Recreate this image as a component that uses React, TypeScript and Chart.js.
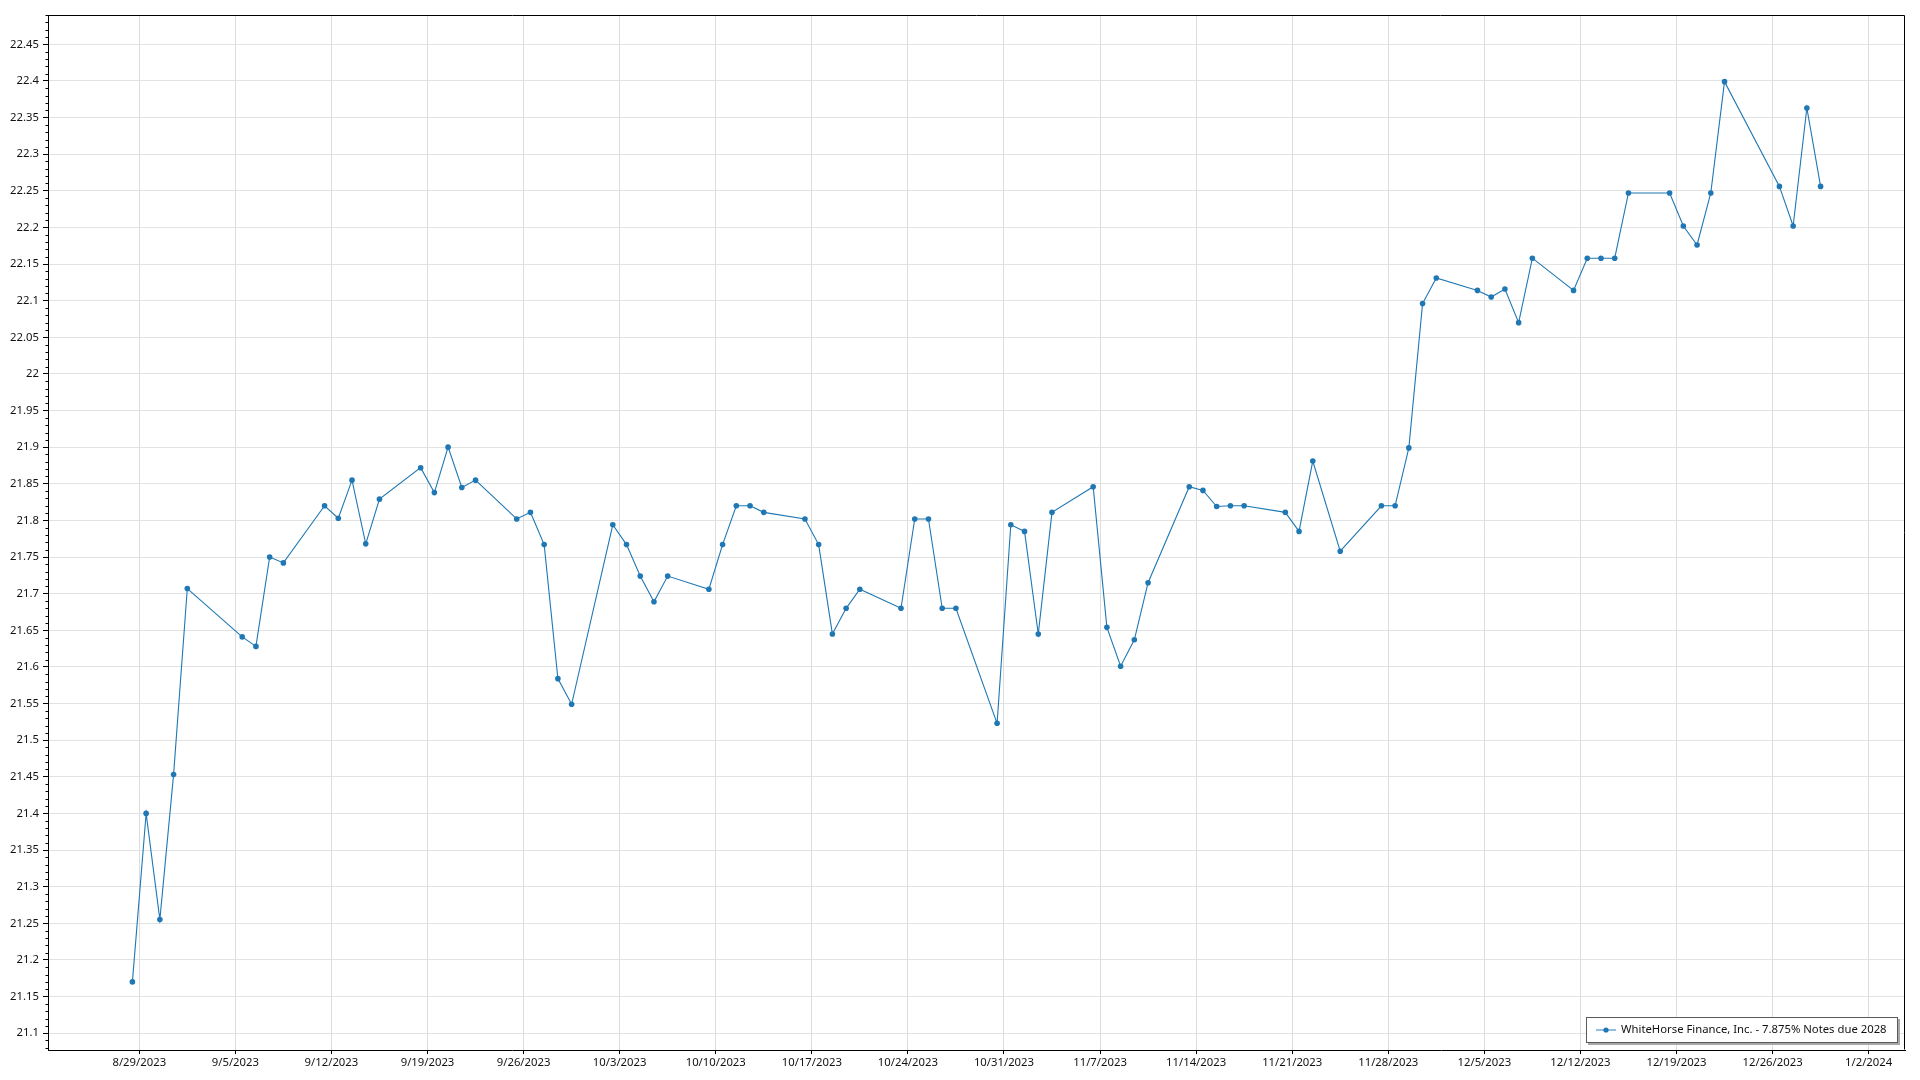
import React, { useEffect, useRef } from 'react';
import { Chart, registerables } from 'chart.js';

Chart.register(...registerables);

const SERIES_LABEL = 'WhiteHorse Finance, Inc. - 7.875% Notes due 2028';

const DATES = [
  '2023-08-28', '2023-08-29', '2023-08-30', '2023-08-31', '2023-09-01',
  '2023-09-05', '2023-09-06', '2023-09-07', '2023-09-08',
  '2023-09-11', '2023-09-12', '2023-09-13', '2023-09-14', '2023-09-15',
  '2023-09-18', '2023-09-19', '2023-09-20', '2023-09-21', '2023-09-22',
  '2023-09-25', '2023-09-26', '2023-09-27', '2023-09-28', '2023-09-29',
  '2023-10-02', '2023-10-03', '2023-10-04', '2023-10-05', '2023-10-06',
  '2023-10-09', '2023-10-10', '2023-10-11', '2023-10-12', '2023-10-13',
  '2023-10-16', '2023-10-17', '2023-10-18', '2023-10-19', '2023-10-20',
  '2023-10-23', '2023-10-24', '2023-10-25', '2023-10-26', '2023-10-27',
  '2023-10-30', '2023-10-31', '2023-11-01', '2023-11-02', '2023-11-03',
  '2023-11-06', '2023-11-07', '2023-11-08', '2023-11-09', '2023-11-10',
  '2023-11-13', '2023-11-14', '2023-11-15', '2023-11-16', '2023-11-17',
  '2023-11-20', '2023-11-21', '2023-11-22', '2023-11-24',
  '2023-11-27', '2023-11-28', '2023-11-29', '2023-11-30', '2023-12-01',
  '2023-12-04', '2023-12-05', '2023-12-06', '2023-12-07', '2023-12-08',
  '2023-12-11', '2023-12-12', '2023-12-13', '2023-12-14', '2023-12-15',
  '2023-12-18', '2023-12-19', '2023-12-20', '2023-12-21', '2023-12-22',
  '2023-12-26', '2023-12-27', '2023-12-28', '2023-12-29',
];

const PRICES = [
  21.17, 21.40, 21.255, 21.453, 21.707,
  21.641, 21.628, 21.75, 21.742,
  21.82, 21.803, 21.855, 21.768, 21.829,
  21.872, 21.838, 21.9, 21.845, 21.855,
  21.802, 21.811, 21.767, 21.584, 21.549,
  21.794, 21.767, 21.724, 21.689, 21.724,
  21.706, 21.767, 21.82, 21.82, 21.811,
  21.802, 21.767, 21.645, 21.68, 21.706,
  21.68, 21.802, 21.802, 21.68, 21.68,
  21.523, 21.794, 21.785, 21.645, 21.811,
  21.846, 21.654, 21.601, 21.637, 21.715,
  21.846, 21.841, 21.819, 21.82, 21.82,
  21.811, 21.785, 21.881, 21.758,
  21.82, 21.82, 21.899, 22.096, 22.131,
  22.114, 22.105, 22.116, 22.07, 22.158,
  22.114, 22.158, 22.158, 22.158, 22.247,
  22.247, 22.202, 22.176, 22.247, 22.399,
  22.256, 22.202, 22.363, 22.256,
];

const X_TICK_DATES = [
  '2023-08-29', '2023-09-05', '2023-09-12', '2023-09-19', '2023-09-26',
  '2023-10-03', '2023-10-10', '2023-10-17', '2023-10-24', '2023-10-31',
  '2023-11-07', '2023-11-14', '2023-11-21', '2023-11-28', '2023-12-05',
  '2023-12-12', '2023-12-19', '2023-12-26', '2024-01-02',
];

const Y_TICK_START = 21.1;
const Y_TICK_END = 22.45;
const Y_TICK_STEP = 0.05;
const Y_MINOR_STEP = 0.01;
const Y_MIN = 21.077;
const Y_MAX = 22.49;

// samples are timestamped at noon of each trading day
const SAMPLE_HOUR_FRACTION = 0.5;
const X_PAD_FRACTION = 0.05;

const FONT_FAMILY = "'Segoe UI', 'Noto Sans', 'Open Sans', sans-serif";
const FONT_SIZE = 11.3;
const LINE_COLOR = '#1f77b4';

const DAY_MS = 86400000;
function dayOf(s: string): number {
  const [y, m, d] = s.split('-').map(Number);
  return Date.UTC(y, m - 1, d) / DAY_MS;
}
function formatDay(v: number): string {
  const dt = new Date(Math.round(v) * DAY_MS);
  return `${dt.getUTCMonth() + 1}/${dt.getUTCDate()}/${dt.getUTCFullYear()}`;
}

const decorPlugin = {
  id: 'decor',
  afterDraw(chart: any) {
    const { ctx, chartArea: a } = chart;
    const L = Math.round(a.left) + 0.5;
    const T = Math.round(a.top) + 0.5;
    const R = Math.round(a.right) - 0.5;
    const B = Math.round(a.bottom) - 0.5;
    ctx.save();
    ctx.strokeStyle = '#000';
    ctx.lineWidth = 1;
    ctx.beginPath();
    ctx.moveTo(L, T);
    ctx.lineTo(R, T);
    ctx.lineTo(R, B);
    ctx.stroke();

    // minor ticks on the value axis
    const ys = chart.scales.y;
    const kMin = Math.ceil(ys.min / Y_MINOR_STEP - 1e-9);
    const kMax = Math.floor(ys.max / Y_MINOR_STEP + 1e-9);
    ctx.beginPath();
    for (let k = kMin; k <= kMax; k++) {
      const v = k * Y_MINOR_STEP;
      const major = Math.abs(v / Y_TICK_STEP - Math.round(v / Y_TICK_STEP)) < 1e-6;
      if (major) continue;
      const py = Math.round(ys.getPixelForValue(v)) + 0.5;
      ctx.moveTo(L - 3, py);
      ctx.lineTo(L, py);
    }
    ctx.stroke();

    // legend box
    const label = chart.data.datasets[0].label;
    ctx.font = `${FONT_SIZE}px ${FONT_FAMILY}`;
    const tw = ctx.measureText(label).width;
    const boxW = Math.round(tw + 46);
    const boxH = 26;
    const bx = Math.round(a.right) - 7 - boxW;
    const by = Math.round(a.bottom) - 7 - boxH;
    ctx.fillStyle = '#a8a8a8';
    ctx.fillRect(bx + 2, by + 2, boxW, boxH);
    ctx.fillStyle = '#ffffff';
    ctx.fillRect(bx, by, boxW, boxH);
    ctx.strokeStyle = '#5a5a5a';
    ctx.strokeRect(bx + 0.5, by + 0.5, boxW - 1, boxH - 1);
    const cy = by + boxH / 2;
    ctx.strokeStyle = '#6fa8d6';
    ctx.lineWidth = 1.5;
    ctx.beginPath();
    ctx.moveTo(bx + 10, cy);
    ctx.lineTo(bx + 30, cy);
    ctx.stroke();
    ctx.fillStyle = LINE_COLOR;
    ctx.beginPath();
    ctx.arc(bx + 20, cy, 2.6, 0, Math.PI * 2);
    ctx.fill();
    ctx.fillStyle = '#111';
    ctx.textBaseline = 'middle';
    ctx.textAlign = 'left';
    ctx.fillText(label, bx + 35, cy);
    ctx.restore();
  },
};

export default function App() {
  const ref = useRef<HTMLCanvasElement | null>(null);

  useEffect(() => {
    document.body.style.margin = '0';
    const canvas = ref.current;
    if (!canvas) return;

    const xs = DATES.map((d) => dayOf(d) + SAMPLE_HOUR_FRACTION);
    const span = xs[xs.length - 1] - xs[0];
    const xMin = xs[0] - span * X_PAD_FRACTION;
    const xMax = xs[xs.length - 1] + span * X_PAD_FRACTION;

    const yTicks: number[] = [];
    const n = Math.round((Y_TICK_END - Y_TICK_START) / Y_TICK_STEP);
    for (let i = 0; i <= n; i++) yTicks.push(+(Y_TICK_START + i * Y_TICK_STEP).toFixed(2));

    const chart = new Chart(canvas, {
      type: 'line',
      data: {
        datasets: [
          {
            label: SERIES_LABEL,
            data: xs.map((x, i) => ({ x, y: PRICES[i] })),
            borderColor: LINE_COLOR,
            backgroundColor: LINE_COLOR,
            borderWidth: 1.1,
            pointRadius: 2.8,
            pointBorderWidth: 0,
            pointBackgroundColor: LINE_COLOR,
            tension: 0,
            fill: false,
          },
        ],
      },
      options: {
        responsive: false,
        animation: false,
        layout: { padding: { top: 15, right: 15, left: 0, bottom: 0 } },
        plugins: {
          legend: { display: false },
          tooltip: { enabled: false },
        },
        scales: {
          x: {
            type: 'linear',
            min: xMin,
            max: xMax,
            afterBuildTicks: (s: any) => {
              s.ticks = X_TICK_DATES.map((d) => ({ value: dayOf(d) }));
            },
            afterFit: (s: any) => {
              s.height = 30;
            },
            grid: { color: '#dcdcdc', tickColor: '#000', tickLength: 4, lineWidth: 1 },
            border: { color: '#000', width: 1 },
            ticks: {
              color: '#111',
              font: { family: FONT_FAMILY, size: FONT_SIZE },
              padding: 2,
              maxRotation: 0,
              autoSkip: false,
              callback: (v: any) => formatDay(Number(v)),
            },
          },
          y: {
            type: 'linear',
            min: Y_MIN,
            max: Y_MAX,
            afterBuildTicks: (s: any) => {
              s.ticks = yTicks.map((v) => ({ value: v }));
            },
            afterFit: (s: any) => {
              s.width = 48;
            },
            grid: { color: '#e2e2e2', tickColor: '#000', tickLength: 5, lineWidth: 1 },
            border: { color: '#000', width: 1 },
            ticks: {
              color: '#111',
              font: { family: FONT_FAMILY, size: FONT_SIZE },
              padding: 4,
              autoSkip: false,
              callback: (v: any) => String(+Number(v).toFixed(2)),
            },
          },
        },
      },
      plugins: [decorPlugin],
    });

    return () => chart.destroy();
  }, []);

  return (
    <div style={{ width: 1920, height: 1080, background: '#fff', position: 'relative' }}>
      <canvas ref={ref} width={1920} height={1080} style={{ display: 'block', width: 1920, height: 1080 }} />
    </div>
  );
}
